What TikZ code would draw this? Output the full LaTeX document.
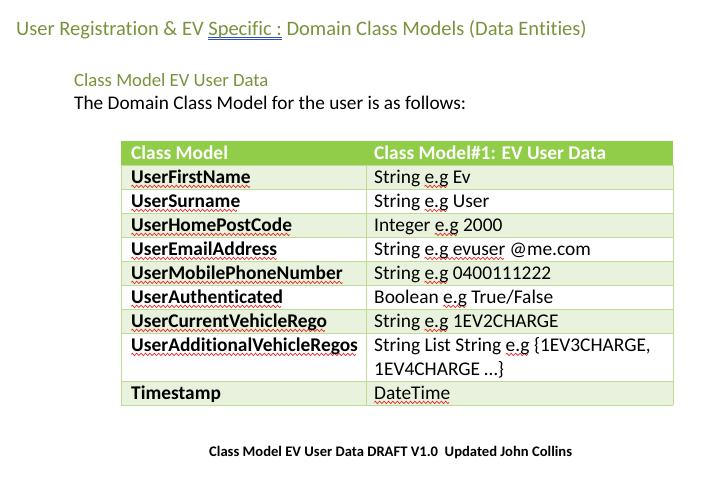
\documentclass[tikz,border=0pt]{standalone}
\usepackage{fontspec}
\setmainfont{Carlito}[Ligatures=NoCommon]
\definecolor{olive}{HTML}{77933C}
\definecolor{hdr}{HTML}{92CD4A}
\definecolor{band}{HTML}{E9F2DC}
\definecolor{rule}{HTML}{BFDC96}
\definecolor{spell}{HTML}{E8262A}
\definecolor{gram}{HTML}{3050B0}
\newsavebox\wavebox
\newsavebox\wtmp
\sbox\wavebox{\tikz[baseline=0pt]{\useasboundingbox (0,-1.2pt) rectangle (4.4pt,1.2pt);
  \draw[spell,line width=0.7pt] (0,0) sin (1.1pt,1.2pt) cos (2.2pt,0) sin (3.3pt,-1.2pt) cos (4.4pt,0);}}
\newcommand\rw[1]{\sbox\wtmp{#1}\rlap{\lower3.4pt\hbox to \wd\wtmp{\leaders\copy\wavebox\hfil}}\usebox\wtmp}
\newcommand\bdu[1]{\sbox\wtmp{#1}\rlap{\color{gram}\rule[-2.8pt]{\wd\wtmp}{0.7pt}}\rlap{\color{gram}\rule[-5pt]{\wd\wtmp}{0.7pt}}\usebox\wtmp}
\tikzset{
  txt/.style={anchor=base west, inner sep=0pt, font=\fontsize{19.4}{23}\selectfont},
  lft/.style={txt, font=\fontsize{19.4}{23}\selectfont\bfseries},
  hd/.style={txt, font=\fontsize{19.4}{23}\selectfont\bfseries, text=white},
  grid/.style={draw=rule, line width=0.8pt}
}
\begin{document}
\begin{tikzpicture}[x=1pt,y=-1pt]
\useasboundingbox (0,0) rectangle (720,482);
% title
\node[anchor=base west, inner sep=0pt, text=olive, font=\fontsize{20.5}{24}\selectfont] (title) at (16,35)
  {User Registration \& EV \bdu{Specific :} Domain Class Models (Data Entities)};
\node[anchor=base west, inner sep=0pt, text=olive, font=\fontsize{18.7}{22}\selectfont] (sub) at (74,86) {Class Model EV User Data};
\node[anchor=base west, inner sep=0pt, font=\fontsize{19.3}{23}\selectfont] (intro) at (74,109) {The Domain Class Model for the user is as follows:};
% table backgrounds
\fill[hdr] (121,141) rectangle (673,165);
\foreach \a/\b in {165/189, 213/237, 261/285, 309/333, 381/405}
  \fill[band] (121,\a) rectangle (673,\b);
% grid
\foreach \y in {165,189,213,237,261,285,309,333,381,405}
  \draw[grid] (121,\y) -- (673,\y);
\draw[grid] (121,165) -- (121,405);
\draw[grid] (673,165) -- (673,405);
\draw[grid] (366,165) -- (366,405);
% header
\node[hd] (h1) at (131,159) {Class Model};
\node[hd] (h2) at (374,159) {Class Model\#1: EV User Data};
% rows
\node[lft] (l1) at (131,183) {\rw{UserFirstName}};
\node[txt] (r1) at (374,183) {String \rw{e.g} Ev};
\node[lft] (l2) at (131,207) {\rw{UserSurname}};
\node[txt] (r2) at (374,207) {String \rw{e.g} User};
\node[lft] (l3) at (131,231) {\rw{UserHomePostCode}};
\node[txt] (r3) at (374,231) {Integer \rw{e.g} 2000};
\node[lft] (l4) at (131,255) {\rw{UserEmailAddress}};
\node[txt] (r4) at (374,255) {String \rw{e.g evuser} @me.com};
\node[lft] (l5) at (131,279) {\rw{UserMobilePhoneNumber}};
\node[txt] (r5) at (374,279) {String \rw{e.g} 0400111222};
\node[lft] (l6) at (131,303) {\rw{UserAuthenticated}};
\node[txt] (r6) at (374,303) {Boolean \rw{e.g} True/False};
\node[lft] (l7) at (131,327) {\rw{UserCurrentVehicleRego}};
\node[txt] (r7) at (374,327) {String \rw{e.g} 1EV2CHARGE};
\node[lft] (l8) at (131,351) {\rw{UserAdditionalVehicleRegos}};
\node[txt] (r8) at (374,351) {String List String \rw{e.g} \{1EV3CHARGE,};
\node[txt] (r8b) at (374,375) {1EV4CHARGE …\}};
\node[lft] (l9) at (131,399) {Timestamp};
\node[txt] (r9) at (374,399) {\rw{DateTime}};
% caption
\node[anchor=base west, inner sep=0pt, font=\fontsize{14.6}{17}\selectfont\bfseries] (cap) at (209,456)
  {Class Model EV User Data DRAFT V1.0\ \ Updated John Collins};
\end{tikzpicture}
\end{document}
